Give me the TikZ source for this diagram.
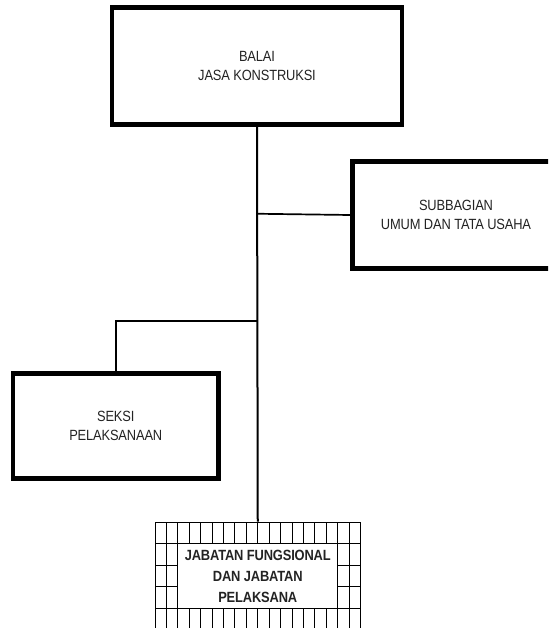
\documentclass[tikz,border=0pt]{standalone}
\usepackage{fontspec}
\setmainfont{Liberation Sans}
\newfontfamily\tightfont[FakeStretch=0.87,LetterSpace=-1]{Liberation Sans}
\definecolor{txtgray}{RGB}{35,35,35}
\begin{document}
\begin{tikzpicture}[x=1pt,y=-1pt,
  unitbox/.style={draw, line width=4.8pt, inner sep=0pt, align=center,
    text=txtgray, font=\tightfont\fontsize{14.8}{19}\selectfont},
  mainline/.style={line width=2pt},
  branch/.style={line width=1.7pt},
  gridline/.style={line width=1pt},
  innerbox/.style={draw, fill=white, line width=1pt, inner sep=0pt, align=center,
    text=txtgray, font=\tightfont\fontsize{14.8}{21}\selectfont\bfseries}]
\useasboundingbox (0,0) rectangle (548,628);
\clip (0,0) rectangle (548,628);
\fill[white] (0,0) rectangle (548,628);

\node[unitbox, minimum width=290pt, minimum height=117pt] (top) at (257,66)
  {BALAI\\JASA KONSTRUKSI};
\node[unitbox, minimum width=207pt, minimum height=106.5pt] (sub) at (456,215)
  {SUBBAGIAN\\UMUM DAN TATA USAHA};
\node[unitbox, minimum width=205.5pt, minimum height=105pt] (seksi) at (115.75,426)
  {SEKSI\\PELAKSANAAN};

% grid box
\node[draw, line width=1pt, inner sep=0pt, minimum width=205.5pt, minimum height=108.3pt] (jf) at (257.75,576.15) {};
\foreach \i in {1,...,17}
  \draw[gridline] (155+\i*11.4167,522) -- (155+\i*11.4167,630.3);
\foreach \j in {1,...,4}
  \draw[gridline] (155,522+\j*21.66) -- (360.5,522+\j*21.66);
\node[innerbox, minimum width=159.9pt, minimum height=65pt] (jft) at (257.75,576.2)
  {JABATAN FUNGSIONAL\\DAN JABATAN\\PELAKSANA};

% connectors
\coordinate (b1) at (257,213.75);
\coordinate (b2) at (257,321);
\draw[mainline] (top.south) -- (jf.north);
\draw[branch] (b1) -- (sub.west);
\draw[branch] (b2) -| (seksi.north);
\end{tikzpicture}
\end{document}
